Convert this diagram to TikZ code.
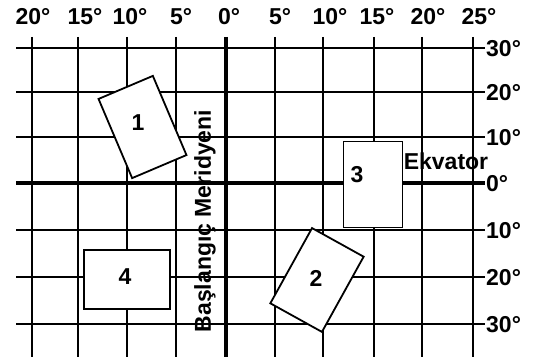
\documentclass[tikz,border=0pt]{standalone}
\usepackage{fontspec}
\setmainfont{Liberation Sans}
\usetikzlibrary{calc}

\tikzset{
  gridline/.style={line width=1.8pt},
  axisline/.style={line width=3.2pt},
  plate/.style={draw,line width=1.8pt,fill=white,minimum width=59pt,minimum height=86pt,inner sep=0pt},
  deg/.style={font=\fontsize{23}{25}\selectfont\bfseries,inner sep=1pt},
}

\begin{document}
\begin{tikzpicture}[x=1pt,y=-1pt]
\useasboundingbox (0,0) rectangle (537,363);
% grid
\foreach \x in {32,78,127,176,275,323,374,422,473} \draw[gridline] (\x,37)--(\x,357);
\foreach \y in {48,92,137,230,277,324} \draw[gridline] (16,\y)--(485,\y);
\draw[axisline] (226,37)--(226,357);
\draw[axisline] (16,183)--(485,183);
% degrees
\foreach \x/\t [count=\i] in {33/20,85/15,130/10,181/5,229/0,280/5,330/10,377/15,428/20,479/25}
  \node[deg] (lon\i) at (\x,17) {\t°};
\foreach \y/\t [count=\i] in {49/30,93/20,138/10,184/0,231/10,278/20,325/30}
  \node[deg,anchor=west] (lat\i) at (485,\y) {\t°};
% plates
\node[plate,rotate=23] (p1) at (142.5,127) {};
\node[plate,rotate=-29] (p2) at (317,280) {};
\node[plate] (p3) at (373,184.5) {};
\node[plate,rotate=90] (p4) at (127,279.5) {};
\node[deg] (n1) at (138,123) {1};
\node[deg] (n2) at (316,278) {2};
\node[deg] (n3) at (357,175) {3};
\node[deg] (n4) at (125,277) {4};
\node[deg] (ekv) at (446,161) {Ekvator};
\node[deg,rotate=90] (mer) at (205,221) {Başlangıç Meridyeni};
\end{tikzpicture}
\end{document}
